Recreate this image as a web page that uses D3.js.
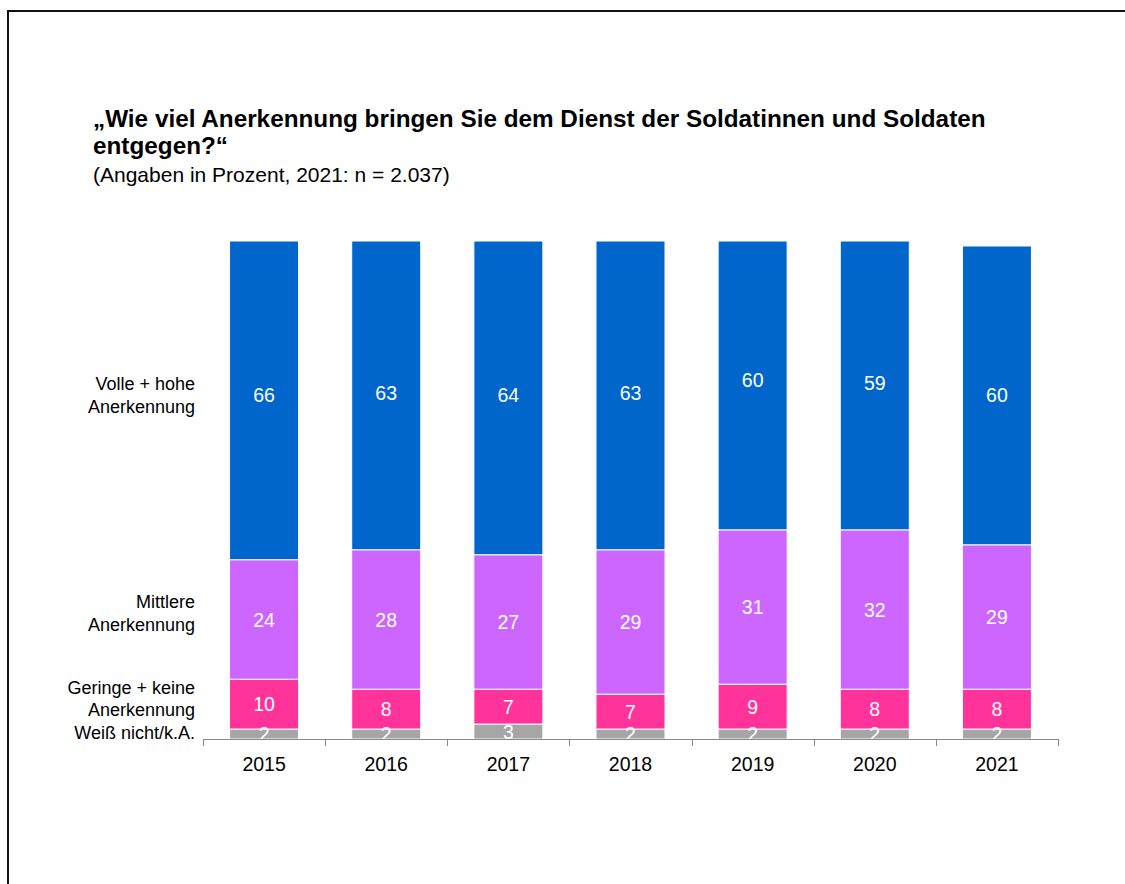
<!DOCTYPE html>
<html>
<head>
<meta charset="utf-8">
<script src="https://cdn.jsdelivr.net/npm/d3@7"></script>
<style>
  html, body { margin: 0; padding: 0; background: #fff; overflow: hidden; }
  svg { display: block; font-family: "Liberation Sans", Arial, sans-serif; }
</style>
</head>
<body>
<svg id="chart" width="1125" height="884"></svg>
<script>
const years = ["2015", "2016", "2017", "2018", "2019", "2020", "2021"];
const weissNicht = [2, 2, 3, 2, 2, 2, 2];
const gering = [10, 8, 7, 7, 9, 8, 8];
const mittlere = [24, 28, 27, 29, 31, 32, 29];
const volle = [66, 63, 64, 63, 60, 59, 60];

const seriesNames = ["Weiß nicht/k.A.", "Geringe + keine Anerkennung", "Mittlere Anerkennung", "Volle + hohe Anerkennung"];
const seriesValues = [weissNicht, gering, mittlere, volle];
const seriesColors = ["#A6A6A6", "#FF3399", "#CC66FF", "#0066CC"];

const titleLines = ["„Wie viel Anerkennung bringen Sie dem Dienst der Soldatinnen und Soldaten", "entgegen?“"];
const subtitle = "(Angaben in Prozent, 2021: n = 2.037)";

const svg = d3.select("#chart");

// frame (top and left edges visible)
svg.append("path").attr("d", "M8,900V11H1140")
  .attr("fill", "none").attr("stroke", "#111").attr("stroke-width", 2);

// title
svg.append("text").attr("x", 93).attr("y", 127)
  .style("font-size", "24.3px").style("font-weight", "bold").text(titleLines[0]);
svg.append("text").attr("x", 93).attr("y", 154)
  .style("font-size", "24.3px").style("font-weight", "bold").text(titleLines[1]);
svg.append("text").attr("x", 93).attr("y", 182)
  .style("font-size", "21px").text(subtitle);

const x = d3.scaleBand().domain(years).range([203, 1058]).paddingInner(0.435).paddingOuter(0.2175);
const y = d3.scaleLinear().domain([0, 100]).range([739, 241]);

// stack
const rows = years.map((yr, i) => {
  const o = { year: yr };
  seriesNames.forEach((s, k) => o[s] = seriesValues[k][i]);
  return o;
});
const stack = d3.stack().keys(seriesNames)(rows);

const g = svg.append("g");
stack.forEach((layer, k) => {
  g.selectAll(null).data(layer).enter().append("rect")
    .attr("x", d => x(d.data.year))
    .attr("width", x.bandwidth())
    .attr("y", d => y(Math.min(100, d[1])))
    .attr("height", d => y(d[0]) - y(Math.min(100, d[1])))
    .attr("fill", seriesColors[k])
    .attr("stroke", "#fff").attr("stroke-width", 1);
});

// value labels
stack.forEach((layer, k) => {
  g.selectAll(null).data(layer).enter().append("text")
    .attr("x", d => x(d.data.year) + x.bandwidth() / 2)
    .attr("y", d => (y(d[0]) + y(d[1])) / 2)
    .attr("dy", "0.36em")
    .attr("text-anchor", "middle")
    .attr("fill", "#fff")
    .style("font-size", "19.5px")
    .text(d => d[1] - d[0]);
});

// axis
const axis = d3.axisBottom(x).tickSize(0).tickPadding(0);
const ax = svg.append("g").attr("transform", "translate(0,739)").call(axis);
ax.select(".domain").attr("stroke", "#888").attr("d", "M203.5,0.5H1058");
ax.selectAll(".tick text").attr("y", 32).attr("dy", 0).attr("fill", "#000")
  .style("font-size", "19.5px").style("font-family", "Liberation Sans, Arial, sans-serif");
const bounds = d3.range(years.length + 1).map(i => 203 + i * (1058 - 203) / years.length);
svg.append("g").selectAll("line").data(bounds).enter().append("line")
  .attr("x1", d => Math.round(d) + 0.5).attr("x2", d => Math.round(d) + 0.5)
  .attr("y1", 739).attr("y2", 746).attr("stroke", "#888");

// category labels
const catLabels = [
  { lines: ["Volle + hohe", "Anerkennung"], y: [390, 413] },
  { lines: ["Mittlere", "Anerkennung"], y: [608, 631] },
  { lines: ["Geringe + keine", "Anerkennung"], y: [694, 716] },
  { lines: ["Weiß nicht/k.A."], y: [739] }
];
catLabels.forEach(c => {
  c.lines.forEach((l, i) => {
    svg.append("text").attr("x", 195).attr("y", c.y[i])
      .attr("text-anchor", "end").style("font-size", "18px").attr("fill", "#000").text(l);
  });
});
</script>
</body>
</html>
